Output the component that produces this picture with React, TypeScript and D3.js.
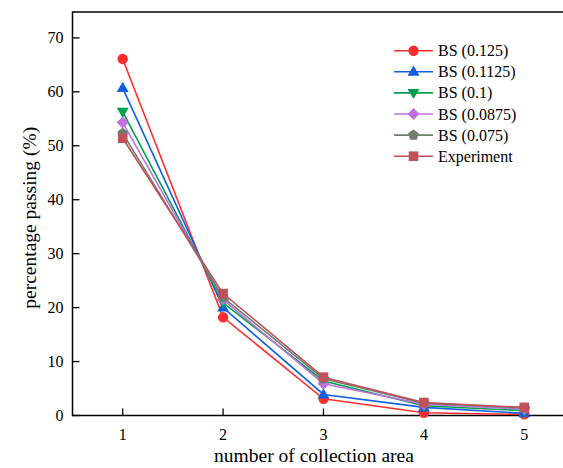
import React from "react";
import * as d3 from "d3";

const areas = [1, 2, 3, 4, 5];
const seriesNames = ["BS (0.125)", "BS (0.1125)", "BS (0.1)", "BS (0.0875)", "BS (0.075)", "Experiment"];
const bs0125 = [66.1, 18.2, 3.1, 0.5, 0.2];
const bs01125 = [60.7, 20.0, 3.9, 1.5, 0.4];
const bs01 = [56.3, 20.9, 6.4, 1.8, 0.9];
const bs00875 = [54.3, 21.5, 5.9, 2.1, 1.2];
const bs0075 = [52.3, 21.9, 6.8, 2.3, 1.4];
const experiment = [51.4, 22.6, 7.1, 2.4, 1.5];
const yTicks = [0, 10, 20, 30, 40, 50, 60, 70];

const colors = ["#FF2E2E", "#1060E0", "#00A050", "#C070E0", "#6B806B", "#C0505A"];
const shapes = ["circle", "triangleUp", "triangleDown", "diamond", "pentagon", "square"];
const allSeries = [bs0125, bs01125, bs01, bs00875, bs0075, experiment];

const W = 563;
const H = 468;
const left = 72.5;
const top = 12;
const bottom = 415.5;

const x = d3.scaleLinear().domain([0.5, 5.5]).range([left, left + 502]);
const y = d3.scaleLinear().domain([0, 74.8]).range([bottom, top]);

function Marker({ shape, cx, cy, color }: { shape: string; cx: number; cy: number; color: string }) {
  const r = 5.2;
  if (shape === "circle") return <circle cx={cx} cy={cy} r={r} fill={color} />;
  if (shape === "square") return <rect x={cx - 4.8} y={cy - 4.8} width={9.6} height={9.6} fill={color} />;
  if (shape === "triangleUp")
    return <path d={`M${cx},${cy - 6.2} L${cx + 6},${cy + 4} L${cx - 6},${cy + 4} Z`} fill={color} />;
  if (shape === "triangleDown")
    return <path d={`M${cx},${cy + 6.2} L${cx + 6},${cy - 4} L${cx - 6},${cy - 4} Z`} fill={color} />;
  if (shape === "diamond")
    return <path d={`M${cx},${cy - 6} L${cx + 6},${cy} L${cx},${cy + 6} L${cx - 6},${cy} Z`} fill={color} />;
  const pts = d3.range(5).map((i) => {
    const a = -Math.PI / 2 + (i * 2 * Math.PI) / 5;
    return `${cx + 5.6 * Math.cos(a)},${cy + 5.6 * Math.sin(a)}`;
  });
  return <polygon points={pts.join(" ")} fill={color} />;
}

export default function App() {
  const line = d3
    .line<number>()
    .x((_, i) => x(areas[i]))
    .y((d) => y(d));
  const font = "'Liberation Serif', 'Times New Roman', serif";
  return (
    <svg width={W} height={H} style={{ position: "absolute", left: 0, top: 0, background: "#fff" }} fontFamily={font}>
      {/* frame */}
      <line x1={left} y1={top} x2={W} y2={top} stroke="#000" strokeWidth={1.5} />
      <line x1={left} y1={top - 0.75} x2={left} y2={bottom + 0.75} stroke="#000" strokeWidth={1.5} />
      <line x1={left} y1={bottom} x2={W} y2={bottom} stroke="#000" strokeWidth={1.5} />
      {/* y ticks */}
      {yTicks.map((t) => (
        <g key={t}>
          <line x1={left} x2={left + 7} y1={y(t)} y2={y(t)} stroke="#000" strokeWidth={1.3} />
          <text x={left - 9} y={y(t) + 5.5} textAnchor="end" fontSize={16}>
            {t}
          </text>
        </g>
      ))}
      {/* x ticks */}
      {areas.map((a) => (
        <g key={a}>
          <line x1={x(a)} x2={x(a)} y1={bottom} y2={bottom - 7} stroke="#000" strokeWidth={1.3} />
          <text x={x(a)} y={bottom + 24} textAnchor="middle" fontSize={16}>
            {a}
          </text>
        </g>
      ))}
      <text x={314} y={462} textAnchor="middle" fontSize={19.5}>
        number of collection area
      </text>
      <text transform={`translate(36,${(top + bottom) / 2 + 4}) rotate(-90)`} textAnchor="middle" fontSize={19.5}>
        percentage passing (%)
      </text>
      {/* series */}
      {allSeries.map((s, si) => (
        <g key={si}>
          <path d={line(s) ?? ""} fill="none" stroke={colors[si]} strokeWidth={1.6} />
          {s.map((v, i) => (
            <Marker key={i} shape={shapes[si]} cx={x(areas[i])} cy={y(v)} color={colors[si]} />
          ))}
        </g>
      ))}
      {/* legend */}
      {seriesNames.map((n, i) => {
        const ly = 50.7 + i * 21.1;
        return (
          <g key={n}>
            <line x1={394} x2={433} y1={ly} y2={ly} stroke={colors[i]} strokeWidth={1.6} />
            <Marker shape={shapes[i]} cx={413.5} cy={ly} color={colors[i]} />
            <text x={438} y={ly + 5.5} fontSize={16}>
              {n}
            </text>
          </g>
        );
      })}
    </svg>
  );
}
